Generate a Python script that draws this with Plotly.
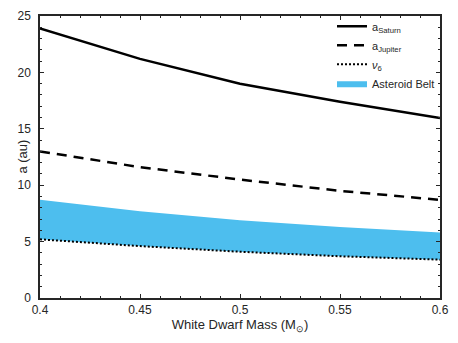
import plotly.graph_objects as go

# White dwarf mass (solar masses)
mass = [0.40, 0.45, 0.50, 0.55, 0.60]

# Semi-major axes (au)
a_saturn = [23.9, 21.2, 19.0, 17.4, 15.95]
a_jupiter = [13.0, 11.6, 10.5, 9.5, 8.7]
nu6 = [5.2, 4.6, 4.1, 3.7, 3.4]
belt_outer = [8.7, 7.7, 6.9, 6.3, 5.8]

belt_color = "#4DBEEE"

fig = go.Figure()

# Asteroid belt band: from nu6 up to the outer edge
fig.add_trace(go.Scatter(
    x=mass, y=nu6, mode="lines", line=dict(width=0, color=belt_color),
    showlegend=False, hoverinfo="skip",
))
fig.add_trace(go.Scatter(
    x=mass, y=belt_outer, mode="lines", fill="tonexty",
    fillcolor=belt_color, line=dict(width=0, color=belt_color),
    name="Asteroid Belt", legendrank=4, legendgroup="d",
))

fig.add_trace(go.Scatter(
    x=mass, y=a_saturn, mode="lines",
    line=dict(color="black", width=2.5, dash="solid"),
    name="a<sub>Saturn</sub>", legendrank=1, legendgroup="a",
))
fig.add_trace(go.Scatter(
    x=mass, y=a_jupiter, mode="lines",
    line=dict(color="black", width=2.5, dash="10px,7px"),
    name="a<sub>Jupiter</sub>", legendrank=2, legendgroup="b",
))
fig.add_trace(go.Scatter(
    x=mass, y=nu6, mode="lines",
    line=dict(color="black", width=2, dash="2px,2px"),
    name="<i>ν</i><sub>6</sub>", legendrank=3, legendgroup="c",
))

axis_style = dict(
    showline=True, linecolor="#262626", linewidth=1.5, mirror="allticks",
    ticks="inside", ticklen=4, tickcolor="#262626", tickwidth=1,
    showgrid=False, zeroline=False,
    tickfont=dict(size=12, color="#262626"),
)

fig.update_xaxes(
    range=[0.4, 0.6], tickvals=[0.4, 0.45, 0.5, 0.55, 0.6],
    ticktext=["0.4", "0.45", "0.5", "0.55", "0.6"],
    ticklabeloverflow="allow",
    minor=dict(ticks="inside", ticklen=2, dtick=0.01, tickcolor="#262626", showgrid=False),
    title=dict(text="White Dwarf Mass (M<sub>⊙</sub>)", font=dict(size=13, color="#262626"), standoff=4),
    **axis_style,
)
fig.update_yaxes(
    range=[0, 25], dtick=5, ticklabelstandoff=5,
    minor=dict(ticks="inside", ticklen=2, dtick=1, tickcolor="#262626", showgrid=False),
    **axis_style,
)

# y-axis title placed as an annotation so it sits close to the tick labels
fig.add_annotation(
    text="a (au)", xref="paper", yref="paper", x=-0.046, y=0.5,
    xanchor="center", yanchor="middle", textangle=-90, showarrow=False,
    font=dict(size=13, color="#262626"),
)

fig.update_layout(
    width=458, height=343,
    margin=dict(l=40, r=11, t=9, b=45),
    plot_bgcolor="white", paper_bgcolor="white",
    font=dict(family="Liberation Sans, Arial, sans-serif", color="#262626"),
    legend=dict(
        x=1.0, y=1.015, xanchor="right", yanchor="top",
        bgcolor="rgba(255,255,255,0)", font=dict(size=11),
        traceorder="normal", tracegroupgap=5, itemwidth=30,
    ),
)

fig.write_html(
    "out.html",
    config={"displayModeBar": False},
    post_script="document.body.style.margin = '0';",
)
